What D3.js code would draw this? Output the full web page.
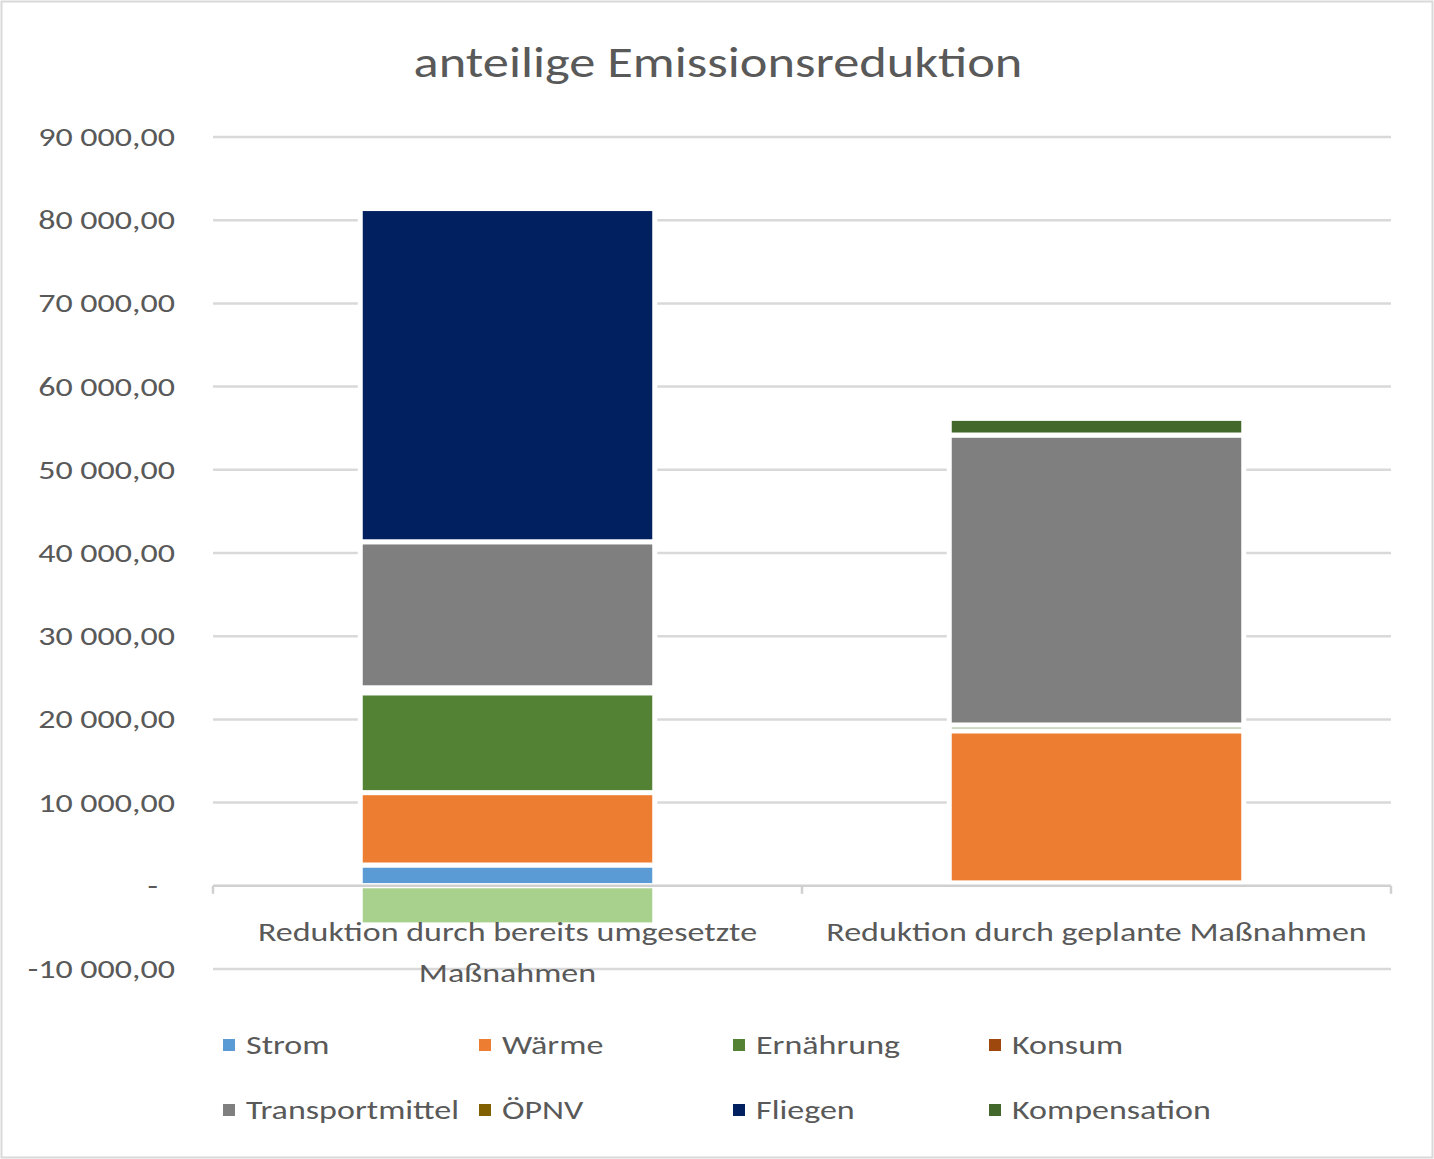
<!DOCTYPE html>
<html>
<head>
<meta charset="utf-8">
<script src="https://cdn.jsdelivr.net/npm/d3@7"></script>
<style>
  body { margin: 0; background: #fff; }
  svg { display: block; font-family: Carlito, Calibri, Lato, sans-serif; }
</style>
</head>
<body>
<svg id="chart" width="1434" height="1159"></svg>
<script>
// categories and series
const categories = ["Reduktion durch bereits umgesetzte Maßnahmen", "Reduktion durch geplante Maßnahmen"];
const categoryLines = [["Reduktion durch bereits umgesetzte", "Maßnahmen"], ["Reduktion durch geplante Maßnahmen"]];
const seriesNames = ["Strom", "Wärme", "Ernährung", "Konsum", "Transportmittel", "ÖPNV", "Fliegen", "Kompensation"];
const seriesColors = ["#5B9BD5", "#ED7D31", "#548235", "#9E480E", "#7F7F7F", "#806000", "#002060", "#43682B"];
const negativeColor = "#A9D18E";

// values per category
const strom = [2500, 350];
const waerme = [8700, 18280];
const ernaehrung = [12000, 700];
const konsum = [600, 0];
const transportmittel = [17550, 34850];
const oepnv = [0, 0];
const fliegen = [40050, 0];
const kompensation = [-4700, 2000];

const yTicks = [-10000, 0, 10000, 20000, 30000, 40000, 50000, 60000, 70000, 80000, 90000];

const values = [strom, waerme, ernaehrung, konsum, transportmittel, oepnv, fliegen, kompensation];
const rows = categories.map((c, i) => {
  const r = { category: c };
  seriesNames.forEach((s, j) => { r[s] = values[j][i]; });
  return r;
});

const svg = d3.select("#chart");
const margin = { left: 213, right: 43, top: 137, bottom: 190 };
const width = 1434, height = 1159;
const textColor = "#595959";
const stretch = 1.26; // the original text is set wider than Lato

const x = d3.scaleBand()
  .domain(categories)
  .range([margin.left, width - margin.right])
  .paddingInner(0.5)
  .paddingOuter(0.25);

const y = d3.scaleLinear()
  .domain([-10000, 90000])
  .range([969, 137]);

const locale = d3.formatLocale({ decimal: ",", thousands: " ", grouping: [3], currency: ["", ""] });
const fmt = locale.format(",.2f");
const tickLabel = v => v === 0 ? "-" : fmt(v).replace("−", "-");

// text helper, stretched horizontally around its anchor
function label(parent, tx, ty, str, size, anchor, sx) {
  return parent.append("text")
    .attr("transform", `translate(${tx},${ty}) scale(${sx || stretch},1)`)
    .attr("text-anchor", anchor)
    .attr("fill", textColor)
    .attr("font-size", size)
    .text(str);
}

// outer frame
svg.append("rect")
  .attr("x", 1.5).attr("y", 1.5)
  .attr("width", width - 3).attr("height", height - 3)
  .attr("fill", "#fff")
  .attr("stroke", "#d9d9d9")
  .attr("stroke-width", 2);

// title
label(svg, 718, 77, "anteilige Emissionsreduktion", 43, "middle", 1.22);

// gridlines
svg.append("g")
  .selectAll("line")
  .data(yTicks.filter(d => d !== 0))
  .enter()
  .append("line")
  .attr("x1", margin.left).attr("x2", width - margin.right)
  .attr("y1", d => y(d)).attr("y2", d => y(d))
  .attr("stroke", "#d9d9d9")
  .attr("stroke-width", 2.5);

// y labels
const yAxisG = svg.append("g");
yTicks.forEach(v => {
  label(yAxisG, v === 0 ? 158 : 175, y(v) + 9, tickLabel(v), 27, "end");
});

// stacked bars
const stack = d3.stack().keys(seriesNames).offset(d3.stackOffsetDiverging);
const layers = stack(rows);

svg.append("g")
  .selectAll("g")
  .data(layers)
  .enter()
  .append("g")
  .each(function (layer, li) {
    d3.select(this)
      .selectAll("rect")
      .data(layer.filter(d => d[1] !== d[0]))
      .enter()
      .append("rect")
      .attr("x", d => x(d.data.category))
      .attr("width", x.bandwidth())
      .attr("y", d => y(Math.max(d[0], d[1])))
      .attr("height", d => Math.abs(y(d[0]) - y(d[1])))
      .attr("fill", d => d.data[layer.key] < 0 ? negativeColor : seriesColors[li])
      .attr("stroke", "#fff")
      .attr("stroke-width", 5);
  });

// zero axis
const axisY = y(0);
svg.append("line")
  .attr("x1", margin.left).attr("x2", width - margin.right)
  .attr("y1", axisY).attr("y2", axisY)
  .attr("stroke", "#d0d0d0")
  .attr("stroke-width", 2.5);

const tickXs = [margin.left, margin.left + x.step(), width - margin.right];
svg.append("g")
  .selectAll("line")
  .data(tickXs)
  .enter()
  .append("line")
  .attr("x1", d => d).attr("x2", d => d)
  .attr("y1", axisY).attr("y2", axisY + 8)
  .attr("stroke", "#d0d0d0")
  .attr("stroke-width", 2.5);

// category labels
const catG = svg.append("g");
categories.forEach((c, i) => {
  categoryLines[i].forEach((line, k) => {
    label(catG, x(c) + x.bandwidth() / 2, 941 + k * 41, line, 27, "middle");
  });
});

// legend
const legendX = [223, 479, 733, 989];
const legendY = [1045, 1110];
const legend = svg.append("g")
  .selectAll("g")
  .data(seriesNames)
  .enter()
  .append("g")
  .attr("transform", (d, i) => `translate(${legendX[i % 4]},${legendY[Math.floor(i / 4)]})`);

legend.append("rect")
  .attr("x", 0).attr("y", -6)
  .attr("width", 12).attr("height", 12)
  .attr("fill", (d, i) => seriesColors[i]);

legend.each(function (d) {
  label(d3.select(this), 23, 9, d, 27, "start");
});
</script>
</body>
</html>
